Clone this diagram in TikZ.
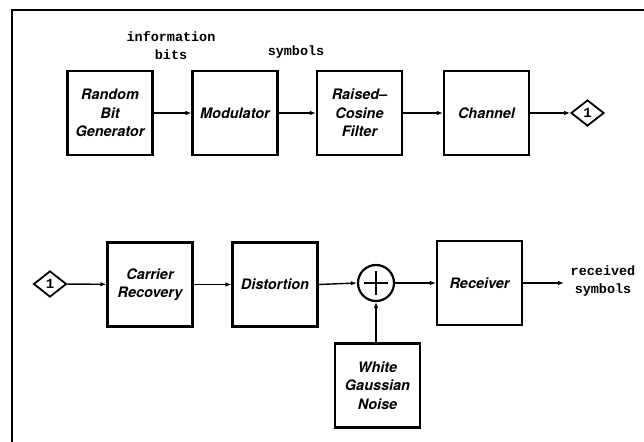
\documentclass[tikz,border=0pt]{standalone}
\usepackage{fontspec}
\setsansfont{TeX Gyre Heros}
\newfontfamily\labelmono{Liberation Mono}
\usetikzlibrary{shapes.geometric,arrows.meta}
\begin{document}
\begin{tikzpicture}[x=1bp,y=-1bp,
  blk/.style={draw,line width=2.2bp,minimum width=85bp,minimum height=84bp,align=center,
    inner sep=0pt,font=\sffamily\bfseries\itshape\fontsize{14.5}{18.5}\selectfont},
  conn/.style={draw,line width=1.8bp,diamond,aspect=1.27,minimum width=33bp,minimum height=26bp,
    inner sep=0pt,font=\labelmono\bfseries\fontsize{14}{14}\selectfont},
  monolab/.style={align=center,inner sep=0pt,font=\labelmono\bfseries\fontsize{13.5}{18}\selectfont},
  flow/.style={line width=1.4bp,-{Latex[length=6bp,width=4.5bp]}}]
\useasboundingbox (0,0) rectangle (644,442);
\draw[line width=2.2bp] (12,442) -- (12,10) -- (644,10);
% top row
\node[blk] (rbg) at (110,113) {Random\\Bit\\Generator};
\node[blk] (mod) at (235,113) {Modulator};
\node[blk] (rcf) at (359.5,113) {Raised--\\Cosine\\Filter};
\node[blk] (chan) at (486.5,113) {Channel};
\node[conn] (d1) at (587.5,113) {1};
\node[monolab] (info) at (171,46) {information\\bits};
\node[monolab] (sym) at (296,52) {symbols};
\draw[flow] (rbg) -- (mod);
\draw[flow] (mod) -- (rcf);
\draw[flow] (rcf) -- (chan);
\draw[flow] (chan) -- (d1);
% bottom row
\node[conn] (d2) at (50,284) {1};
\node[blk] (cr) at (150,284.5) {Carrier\\Recovery};
\node[blk] (dist) at (275,284.5) {Distortion};
\node[draw,circle,line width=2.2bp,minimum size=36bp,inner sep=0pt] (sum) at (376,283) {};
\draw[line width=2.2bp] ([xshift=-12bp]sum.center) -- ([xshift=12bp]sum.center)
  ([yshift=-12bp]sum.center) -- ([yshift=12bp]sum.center);
\node[blk] (rec) at (479.5,283) {Receiver};
\node[blk] (wgn) at (377.5,385.5) {White\\Gaussian\\Noise};
\node[monolab] (rs) at (603,281) {received\\symbols};
\coordinate (out) at (564,283);
\draw[flow] (d2) -- (cr);
\draw[flow] (cr) -- (dist);
\draw[flow] (dist.east) -- (sum.west);
\draw[flow] (sum.east) -- (rec.west |- sum.east);
\draw[flow] (wgn.north -| sum.south) -- (sum.south);
\draw[flow] (rec.east |- out) -- (out);
\end{tikzpicture}
\end{document}
